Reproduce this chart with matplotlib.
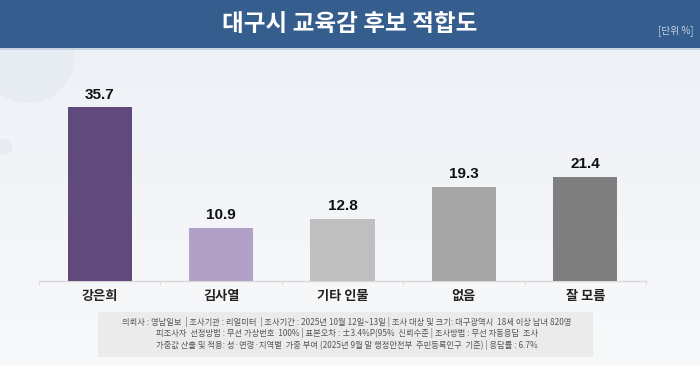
import matplotlib
matplotlib.use("Agg")
import matplotlib.pyplot as plt
import numpy as np
from matplotlib.patches import Rectangle, Ellipse

plt.rcParams['font.family'] = ['Noto Sans CJK KR', 'DejaVu Sans']

categories = ["강은희", "김사열", "기타 인물", "없음", "잘 모름"]
values = [35.7, 10.9, 12.8, 19.3, 21.4]
colors = ["#604A7B", "#B2A1C7", "#BFBFBF", "#A6A6A6", "#7F7F7F"]
title = "대구시 교육감 후보 적합도"
unit = "[단위 %]"
footer = [
    "의뢰사 : 영남일보  | 조사기관 : 리얼미터  | 조사기간 : 2025년 10월 12일~13일 | 조사 대상 및 크기: 대구광역시  18세 이상 남녀 820명",
    "피조사자  선정방법 : 무선 가상번호  100% | 표본오차 : ±3.4%P(95%  신뢰수준 | 조사방법 : 무선 자동응답  조사",
    "가중값 산출 및 적용: 성·연령·지역별  가중 부여 (2025년 9월 말 행정안전부  주민등록인구  기준) | 응답률 : 6.7%",
]

W, H = 700, 365
fig = plt.figure(figsize=(7, 3.65), dpi=100)

# background gradient
bg = fig.add_axes([0, 0, 1, 1], zorder=-10)
grad = np.linspace(0, 1, 256).reshape(-1, 1)
c_top = np.array([0xEC, 0xF0, 0xF5]) / 255
c_bot = np.array([0xF8, 0xF9, 0xFB]) / 255
img = c_bot + (c_top - c_bot) * grad
bg.imshow(img[:, None, :].repeat(2, axis=1), aspect='auto', extent=[0, 1, 0, 1], origin='lower')
bg.set_xlim(0, 1); bg.set_ylim(0, 1)
bg.axis('off')
# decorative faint circle
r = 46
bg.add_patch(Ellipse((28 / W, 1 - 57 / H), 2 * r / W, 2 * r / H, color="#E3E8F0", alpha=0.6, lw=0))
bg.add_patch(Ellipse((4 / W, 1 - 147 / H), 16 / W, 16 / H, color="#E3E8F0", alpha=0.6, lw=0))
# header band
bg.add_patch(Rectangle((0, 1 - 48 / H), 1, 48 / H, color="#355E8E", lw=0))
bg.add_patch(Rectangle((0, 1 - 49.5 / H), 1, 1.5 / H, color="#C9D3E0", lw=0))
# footer box
bg.add_patch(Rectangle((98 / W, 1 - 357 / H), (593 - 98) / W, (357 - 312) / H, color="#EBEBEB", lw=0))

fig.text(350 / W, 1 - 24 / H, title, color="white", fontsize=17, fontweight="bold",
         ha="center", va="center")
fig.text(694 / W, 1 - 31 / H, unit, color="#C8D4E6", fontsize=7, ha="right", va="center")

for i, line in enumerate(footer):
    fig.text(347 / W, 1 - (322 + i * 11.3) / H, line, color="#555555", fontsize=5.95,
             ha="center", va="center")

# chart axes
left, right = 39 / W, 646 / W
bottom, top = 1 - 281 / H, 1 - 60 / H
ax = fig.add_axes([left, bottom, right - left, top - bottom])
ax.patch.set_alpha(0)
x = np.arange(len(categories))
ax.bar(x, values, width=0.53, color=colors, zorder=3)
ax.set_xlim(-0.5, len(categories) - 0.5)
ax.set_ylim(0, 221 / 4.87)
for xi, v in zip(x, values):
    ax.annotate(f"{v}", (xi, v), xytext=(0, 4), textcoords="offset points",
                ha="center", va="bottom", fontsize=11, fontweight="bold", color="#111111",
                family=['Liberation Sans', 'DejaVu Sans'])
for s in ["top", "right", "left"]:
    ax.spines[s].set_visible(False)
ax.spines["bottom"].set_color("#D9D9D9")
ax.spines["bottom"].set_linewidth(1)
ax.set_yticks([])
ax.set_xticks(np.arange(-0.5, len(categories), 1), minor=True)
ax.tick_params(axis='x', which='minor', length=3, color="#D9D9D9")
ax.set_xticks(x)
ax.set_xticklabels(categories, fontsize=9.5, fontweight="bold", color="#222222")
ax.tick_params(axis='x', which='major', length=0, pad=6)

fig.savefig("out.png", dpi=100)
